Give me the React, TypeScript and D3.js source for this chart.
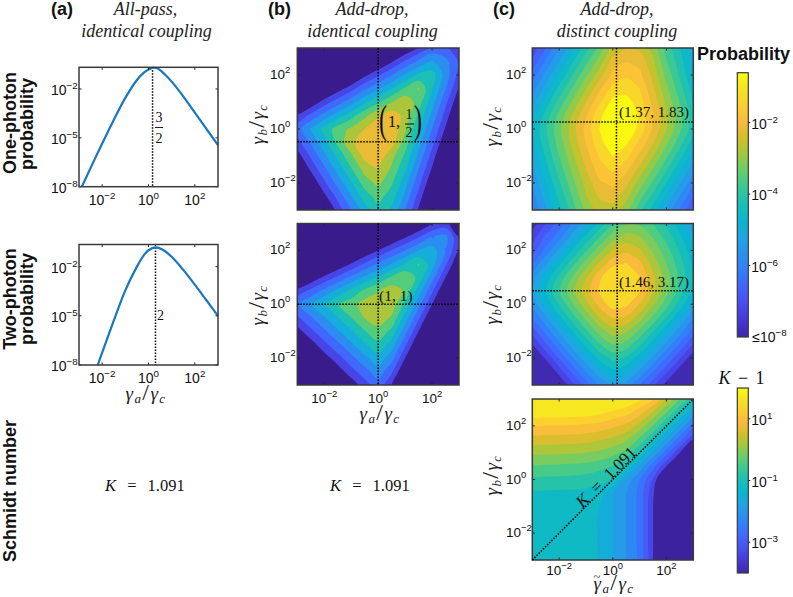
import React from 'react';
import * as d3 from 'd3';

// parula colours, bottom to top of the colorbars
const parula = ['#3E26A8', '#4537D5', '#484DF0', '#4563FD', '#327CFC', '#2B91EF', '#20A5E3', '#08B5D0', '#19BFB6',
  '#37C897', '#64CD6F', '#9DC943', '#D1BF27', '#F8BA3D', '#FCCE2F', '#F5E323', '#F9FB0E'];

// line plots, everything is log10
const onePhotonX = [-2.88, -2, -1.5, -1, -0.5, -0.2, 0, 0.18, 0.4, 0.7, 1, 1.5, 2, 2.5, 3];
const onePhotonY = [-8, -5.35, -3.9, -2.55, -1.45, -1.0, -0.8, -0.7, -0.75, -1.1, -1.55, -2.45, -3.45, -4.45, -5.45];
const twoPhotonX = [-2.19, -2, -1.5, -1, -0.5, -0.2, 0, 0.3, 0.6, 1, 1.5, 2, 2.5, 3];
const twoPhotonY = [-8, -7.25, -5.3, -3.45, -2.0, -1.3, -1.0, -0.82, -0.95, -1.4, -2.2, -3.1, -4.05, -5];

const lineYTicks = [-2, -5, -8];
const gridTicks = [-2, 0, 2];

// log10 probability on a grid, x = -3..3, y = 3..-3, half decade steps
const gridB1 = [
  [-15, -14.2, -13.3, -12.5, -11.7, -10.8, -10, -9.2, -8.3, -7.5, -6.7, -6.8, -7.2],
  [-13.5, -12.7, -11.8, -11, -10.2, -9.3, -8.5, -7.7, -6.8, -6, -5.3, -5.9, -7.0],
  [-12, -11.2, -10.3, -9.5, -8.7, -7.8, -7, -6.2, -5.3, -4.5, -4.3, -5.7, -7.2],
  [-10.5, -9.7, -8.8, -8, -7.2, -6.3, -5.5, -4.7, -3.8, -3.1, -4.6, -6.1, -7.7],
  [-9, -8.2, -7.3, -6.5, -5.7, -4.8, -4, -3.2, -2.6, -3.5, -5.1, -6.7, -8.2],
  [-7.5, -6.7, -5.85, -5, -4.2, -3.35, -2.5, -2.0, -2.6, -4.05, -5.6, -7.2, -8.75],
  [-6.5, -5.35, -4.4, -3.55, -3, -2.4, -1.9, -1.8, -3.0, -4.55, -6.15, -7.7, -9.3],
  [-7.2, -6.05, -4.9, -3.7, -2.6, -1.9, -1.8, -2.1, -3.5, -5.1, -6.65, -8.25, -9.8],
  [-7.95, -6.8, -5.6, -4.45, -3.3, -2.15, -1.9, -2.9, -4.05, -5.6, -7.2, -8.8, -10.3],
  [-8.7, -7.5, -6.35, -5.15, -4, -2.85, -2.4, -3.3, -4.55, -6.15, -7.7, -9.3, -10.9],
  [-9.4, -8.25, -7.05, -5.9, -4.75, -3.55, -2.95, -3.8, -5.1, -6.65, -8.25, -9.8, -11.4],
  [-10.1, -8.95, -7.8, -6.65, -5.45, -4.3, -3.6, -4.3, -5.6, -7.2, -8.75, -10.3, -11.9],
  [-10.9, -9.7, -8.55, -7.35, -6.2, -5, -4.2, -4.8, -6.15, -7.7, -9.3, -10.9, -12.4],
];

const gridB2 = [
  [-15.1, -14.4, -13.6, -12.9, -12.1, -11.4, -10.7, -9.9, -9.2, -8.5, -7.7, -7.4, -8.2],
  [-13.6, -12.8, -12.1, -11.3, -10.6, -9.9, -9.1, -8.4, -7.7, -6.95, -6.2, -5.9, -7.6],
  [-12, -11.3, -10.5, -9.8, -9.1, -8.3, -7.6, -6.85, -6.15, -5.4, -5, -6.2, -7.6],
  [-10.5, -9.75, -9, -8.25, -7.55, -6.8, -6.05, -5.35, -4.6, -3.85, -5, -6.75, -8.45],
  [-8.95, -8.2, -7.45, -6.75, -6, -5.25, -4.55, -3.8, -3.3, -4.1, -5.85, -7.6, -9.35],
  [-7.4, -6.7, -5.95, -5.2, -4.45, -3.75, -3.2, -2.7, -3.25, -5, -6.75, -8.45, -10.2],
  [-6.25, -5.45, -4.65, -3.85, -3.5, -2.8, -2.7, -2.7, -4.1, -5.85, -7.6, -9.35, -11.1],
  [-7.05, -6.25, -5.5, -4.7, -3.9, -3.1, -2.7, -3.25, -5, -6.75, -8.45, -10.2, -12],
  [-7.9, -7.1, -6.3, -5.5, -4.75, -3.95, -3.4, -4.1, -5.85, -7.6, -9.35, -11.1, -12.8],
  [-8.7, -7.95, -7.15, -6.35, -5.55, -4.75, -4.1, -5, -6.75, -8.45, -10.2, -12, -13.7],
  [-9.55, -8.75, -7.95, -7.2, -6.4, -5.6, -4.9, -5.85, -7.6, -9.35, -11.1, -12.8, -14.6],
  [-10.4, -9.6, -8.8, -8, -7.2, -6.45, -5.7, -6.75, -8.45, -10.2, -12, -13.7, -15.4],
  [-11.2, -10.4, -9.65, -8.85, -8.05, -7.25, -6.45, -7.6, -9.35, -11.1, -12.8, -14.6, -16.3],
];

const gridC1 = [
  [-7.22, -6.46, -5.7, -4.93, -4.19, -3.47, -2.6, -2.37, -2.45, -2.95, -3.81, -4.4, -5.0],
  [-6.76, -5.99, -5.24, -4.47, -3.72, -3.01, -2.2, -1.98, -2.1, -2.7, -3.57, -4.25, -4.95],
  [-6.3, -5.53, -4.77, -4.01, -3.26, -2.55, -1.85, -1.62, -1.85, -2.5, -3.32, -4.07, -4.83],
  [-5.84, -5.08, -4.31, -3.56, -2.82, -2.05, -1.4, -1.31, -1.55, -2.3, -3.1, -3.84, -4.61],
  [-5.39, -4.64, -3.87, -3.12, -2.38, -1.62, -1.02, -0.98, -1.35, -2.1, -2.88, -3.62, -4.39],
  [-5.01, -4.26, -3.48, -2.74, -2.01, -1.25, -0.78, -0.77, -1.2, -1.95, -2.72, -3.46, -4.24],
  [-4.82, -4.07, -3.3, -2.55, -1.83, -1.14, -0.67, -0.78, -1.28, -2.03, -2.76, -3.51, -4.28],
  [-4.93, -4.17, -3.41, -2.66, -1.94, -1.27, -0.86, -1.06, -1.65, -2.35, -3.1, -3.84, -4.61],
  [-5.13, -4.37, -3.6, -2.86, -2.14, -1.5, -1.14, -1.42, -2.06, -2.77, -3.52, -4.27, -5.04],
  [-5.35, -4.59, -3.83, -3.09, -2.38, -1.74, -1.48, -1.85, -2.5, -3.22, -3.97, -4.73, -5.49],
  [-5.59, -4.83, -4.07, -3.33, -2.63, -2.03, -1.87, -2.25, -2.96, -3.68, -4.43, -5.2, -5.95],
  [-5.83, -5.06, -4.31, -3.58, -2.8, -2.32, -2.2, -2.65, -3.42, -4.15, -4.89, -5.66, -6.42],
  [-6.08, -5.31, -4.56, -3.83, -3.1, -2.6, -2.55, -3.0, -3.9, -4.62, -5.37, -6.14, -6.89],
];

const gridC2 = [
  [-7.7, -7.1, -6.5, -5.8, -5.24, -4.51, -3.84, -3.42, -3.46, -3.83, -4.32, -4.85, -5.37],
  [-7.3, -6.6, -6.03, -5.27, -4.52, -3.81, -3.16, -2.82, -2.96, -3.42, -3.96, -4.54, -5.13],
  [-6.89, -6.12, -5.36, -4.6, -3.85, -3.14, -2.52, -2.27, -2.51, -3.04, -3.64, -4.26, -4.9],
  [-6.21, -5.45, -4.68, -3.93, -3.19, -2.49, -1.85, -1.72, -2.05, -2.73, -3.37, -4.03, -4.72],
  [-5.62, -4.87, -4.1, -3.35, -2.62, -1.85, -1.3, -1.3, -1.72, -2.47, -3.17, -3.88, -4.62],
  [-5.36, -4.6, -3.83, -3.08, -2.36, -1.67, -1.18, -1.26, -1.7, -2.5, -3.23, -3.98, -4.75],
  [-5.69, -4.94, -4.17, -3.42, -2.7, -2.01, -1.54, -1.65, -2.19, -2.9, -3.63, -4.38, -5.15],
  [-6.27, -5.52, -4.75, -4, -3.27, -2.59, -2.13, -2.24, -2.79, -3.5, -4.24, -4.99, -5.76],
  [-6.89, -6.13, -5.36, -4.62, -3.89, -3.21, -2.77, -2.91, -3.47, -4.18, -4.92, -5.67, -6.44],
  [-7.52, -6.76, -5.99, -5.25, -4.53, -3.85, -3.41, -3.57, -4.14, -4.85, -5.59, -6.34, -7.11],
  [-8.17, -7.42, -6.65, -5.9, -5.18, -4.51, -4.08, -4.27, -4.85, -5.55, -6.29, -7.05, -7.81],
  [-8.82, -8.07, -7.3, -6.56, -5.83, -5.16, -4.75, -4.95, -5.53, -6.24, -6.99, -7.73, -8.5],
  [-9.46, -8.7, -7.94, -7.2, -6.47, -5.8, -5.4, -5.63, -6.23, -6.95, -7.68, -8.43, -9.19],
];

// log10(K - 1)
const gridC3 = [
  [2.1, 2.1, 2.1, 2.08, 2.05, 2.0, 1.85, 1.65, 1.4, 0.95, 0.24, -0.48, -1.2],
  [1.55, 1.55, 1.55, 1.53, 1.5, 1.4, 1.25, 1.1, 0.75, 0.2, -0.48, -1.2, -2.0],
  [0.95, 0.95, 0.95, 0.93, 0.88, 0.82, 0.68, 0.5, 0.1, -0.5, -1.2, -2.0, -2.85],
  [0.44, 0.44, 0.44, 0.42, 0.38, 0.3, 0.15, -0.05, -0.55, -1.2, -2.0, -2.85, -3.72],
  [-0.05, -0.05, -0.06, -0.08, -0.12, -0.2, -0.35, -0.6, -1.2, -2.0, -2.85, -3.72, -4.7],
  [-0.53, -0.53, -0.54, -0.56, -0.6, -0.7, -0.85, -1.2, -2.0, -2.85, -3.72, -4.7, -5.6],
  [-0.93, -0.93, -0.94, -0.96, -1.0, -1.1, -1.2, -2.0, -2.65, -3.4, -4.7, -5.6, -6.3],
  [-1.27, -1.27, -1.27, -1.28, -1.3, -1.35, -1.9, -2.28, -2.75, -3.65, -4.8, -5.6, -6.5],
  [-1.36, -1.36, -1.36, -1.36, -1.37, -1.55, -1.92, -2.28, -2.75, -3.72, -4.8, -5.8, -6.8],
  [-1.38, -1.38, -1.38, -1.38, -1.38, -1.6, -1.92, -2.28, -2.75, -3.72, -4.8, -5.8, -6.8],
  [-1.38, -1.38, -1.38, -1.38, -1.38, -1.6, -1.92, -2.28, -2.75, -3.72, -4.8, -5.8, -6.8],
  [-1.38, -1.38, -1.38, -1.38, -1.38, -1.6, -1.92, -2.28, -2.75, -3.72, -4.8, -5.8, -6.8],
  [-1.38, -1.38, -1.38, -1.38, -1.38, -1.6, -1.92, -2.28, -2.75, -3.72, -4.8, -5.8, -6.8],
];

const levelsB = [-7.6, -6.9, -6.15, -5.4, -4.65, -3.9, -3.15, -2.4];
const levelsC1 = [-7.7, -7.29, -6.88, -6.47, -6.06, -5.65, -5.24, -4.83, -4.42, -4.01, -3.6, -3.19, -2.78, -2.37, -1.96, -1.55, -1.14];
const levelsC2 = [-7.49, -7.08, -6.67, -6.26, -5.85, -5.44, -5.03, -4.62, -4.21, -3.8, -3.39, -2.98, -2.57, -2.16, -1.75];
const levelsC3 = [-3.72, -3.36, -3, -2.64, -2.28, -1.92, -1.56, -1.2, -0.84, -0.48, -0.12, 0.24, 0.6, 0.96, 1.32];

const probTicks = [-2, -4, -6];
const kTicks = [1, -1, -3];

const sans = 'Liberation Sans';
const serif = 'Liberation Serif';

const colorAt = d3.scaleLinear<string>().domain(parula.map((_, i) => i / (parula.length - 1))).range(parula).interpolate(d3.interpolateRgb);
const probT = d3.scaleLinear().domain([-8, -0.6]).range([0, 1]);
const kT = d3.scaleLinear().domain([-4, 2]).range([0, 1]);

function Pow({ x, y, exp, anchor = 'start', size = 14, prefix = '' }: any) {
  return (
    <text x={x} y={y} textAnchor={anchor} fontFamily={sans} fontSize={size} fill="#111">
      {prefix}10<tspan dy={-6} fontSize={size * 0.7}>{String(exp).replace('-', '−')}</tspan>
    </text>
  );
}

function Gamma({ x, y, sub, rotate, tilde }: any) {
  const t = rotate ? `rotate(-90 ${x} ${y})` : undefined;
  return (
    <g>
      <text x={x} y={y} transform={t} textAnchor="middle" fontFamily={serif} fontStyle="italic" fontSize={19} letterSpacing={1.4} fill="#222">
        γ<tspan dy={3} fontSize={13}>{sub}</tspan>
        <tspan dy={-3} fontSize={24} fontStyle="normal">/</tspan>γ<tspan dy={3} fontSize={13}>c</tspan>
      </text>
      {tilde && <text x={x - 17} y={y - 9} textAnchor="middle" fontFamily={serif} fontSize={12} fill="#222">~</text>}
    </g>
  );
}

function Frame({ x0, x1, y0, y1, xt, yt }: any) {
  const marks: any[] = [];
  xt.forEach((v: number) => marks.push(
    <path key={'x' + v} d={`M${v},${y1}v-2.5M${v},${y0}v2.5`} stroke="#222" />));
  yt.forEach((v: number) => marks.push(
    <path key={'y' + v} d={`M${x0},${v}h2.5M${x1},${v}h-2.5`} stroke="#222" />));
  return (
    <g>
      {marks}
      <rect x={x0} y={y0} width={x1 - x0} height={y1 - y0} fill="none" stroke="#3a3a3a" strokeWidth={1.5} />
    </g>
  );
}

function Dotted({ x1, y1, x2, y2 }: any) {
  return <line x1={x1} y1={y1} x2={x2} y2={y2} stroke="#000" strokeWidth={1.5} strokeDasharray="1.5 1.5" />;
}

function LinePanel({ xs, ys, top, bottom, yMax, peak, labelX }: any) {
  const x0 = 79;
  const x1 = 218;
  const xScale = d3.scaleLinear().domain([-3, 3]).range([x0, x1]);
  const yScale = d3.scaleLinear().domain([-8, yMax]).range([bottom, top]);
  const line = d3.line<number>().x((d) => xScale(d)).y((_, i) => yScale(ys[i])).curve(d3.curveCatmullRom);
  return (
    <g>
      <Dotted x1={xScale(peak)} y1={top} x2={xScale(peak)} y2={bottom} />
      <path d={line(xs) as string} fill="none" stroke="#1777BF" strokeWidth={2.2} />
      <Frame x0={x0} x1={x1} y0={top} y1={bottom} xt={gridTicks.map(xScale)} yt={lineYTicks.map(yScale)} />
      {gridTicks.map((t) => <Pow key={t} x={xScale(t)} y={bottom + 18} exp={t} anchor="middle" />)}
      {lineYTicks.map((t) => <Pow key={t} x={labelX} y={yScale(t) + 6} exp={t} />)}
    </g>
  );
}

function ContourPanel({ id, grid, levels, toT, top, bottom, x0, x1, labelX, xLabelGap = 18, showX = false, topValue, bias = 0 }: any) {
  const xScale = d3.scaleLinear().domain([-3, 3]).range([x0, x1]);
  const yScale = d3.scaleLinear().domain([3, -3]).range([top, bottom]);
  // node i of the grid sits at i + 0.5 in d3.contours
  const gx = d3.scaleLinear().domain([0.5, 12.5]).range([x0, x1]);
  const gy = d3.scaleLinear().domain([0.5, 12.5]).range([top, bottom]);
  const bands = d3.contours().size([13, 13]).thresholds(levels)(grid.flat());
  const ring = d3.line().x((d) => gx(d[0])).y((d) => gy(d[1])).curve(d3.curveCatmullRomClosed.alpha(0.5));
  const step = levels[1] - levels[0];
  return (
    <g>
      <clipPath id={id}><rect x={x0} y={top} width={x1 - x0} height={bottom - top} /></clipPath>
      <g clipPath={`url(#${id})`}>
        <rect x={x0} y={top} width={x1 - x0} height={bottom - top} fill={colorAt(toT(levels[0] - step))} />
        {bands.map((b, i) => {
          const hi = i + 1 < levels.length ? levels[i + 1] : levels[i] + step;
          const mid = i === levels.length - 1 && topValue !== undefined ? topValue : (levels[i] + hi) / 2 + bias * step;
          const d = b.coordinates.map((poly) => poly.map((r) => ring(r.slice(0, -1) as any)).join('')).join('');
          return <path key={i} d={d} fill={colorAt(toT(mid))} />;
        })}
      </g>
      <Frame x0={x0} x1={x1} y0={top} y1={bottom} xt={gridTicks.map(xScale)} yt={gridTicks.map(yScale)} />
      {showX && gridTicks.map((t) => <Pow key={t} x={xScale(t)} y={bottom + xLabelGap} exp={t} anchor="middle" size={13.5} />)}
      {gridTicks.map((t) => <Pow key={t} x={labelX} y={yScale(t) + 4} exp={t} size={13.5} />)}
    </g>
  );
}

function ColorBar({ id, x, top, bottom, stops, ticks, domain, last }: any) {
  const yScale = d3.scaleLinear().domain(domain).range([bottom, top]);
  return (
    <g>
      <linearGradient id={id} x1="0" y1="1" x2="0" y2="0">
        {stops.map((c: string, i: number) => <stop key={i} offset={i / (stops.length - 1)} stopColor={c} />)}
      </linearGradient>
      <rect x={x} y={top} width={11} height={bottom - top} fill={`url(#${id})`} stroke="#3a3a3a" strokeWidth={1.2} />
      {ticks.map((t: number) => (
        <g key={t}>
          <path d={`M${x + 11},${yScale(t)}h2`} stroke="#222" />
          <Pow x={x + 14} y={yScale(t) + 6} exp={t} size={14} />
        </g>
      ))}
      {last && <Pow x={x + 15} y={bottom + 4.5} exp={-8} size={14} prefix="≤" />}
    </g>
  );
}

function Bold({ x, y, size = 18, rotate, children, anchor = 'middle' }: any) {
  return (
    <text x={x} y={y} transform={rotate ? `rotate(-90 ${x} ${y})` : undefined} textAnchor={anchor}
      fontFamily={sans} fontWeight={700} fontSize={size} fill="#111">{children}</text>
  );
}

function Head({ x, y, children }: any) {
  return <text x={x} y={y} textAnchor="middle" fontFamily={serif} fontStyle="italic" fontSize={18} fill="#222">{children}</text>;
}

function Note({ x, y, size = 15, children, anchor = 'start', transform, wordSpacing }: any) {
  return <text x={x} y={y} textAnchor={anchor} transform={transform} wordSpacing={wordSpacing} fontFamily={serif} fontSize={size} fill="#111">{children}</text>;
}

export default function App() {
  const bX = d3.scaleLinear().domain([-3, 3]).range([297.3, 459]);
  const cX = d3.scaleLinear().domain([-3, 3]).range([532.3, 693.3]);
  const row1Y = d3.scaleLinear().domain([3, -3]).range([48, 210]);
  const row2Y = d3.scaleLinear().domain([3, -3]).range([223.5, 385]);
  const row3Y = d3.scaleLinear().domain([3, -3]).range([399, 560]);
  const log = Math.log10;

  return (
    <svg width={793} height={597} style={{ position: 'absolute', left: 0, top: 0 }}>
      <Bold x={51} y={15} anchor="start">(a)</Bold>
      <Bold x={268} y={15} anchor="start">(b)</Bold>
      <Bold x={493} y={15} anchor="start">(c)</Bold>
      <Head x={145.5} y={15}>All-pass,</Head>
      <Head x={146.5} y={37}>identical coupling</Head>
      <Head x={372} y={15}>Add-drop,</Head>
      <Head x={372.5} y={37}>identical coupling</Head>
      <Head x={617} y={15}>Add-drop,</Head>
      <Head x={617} y={37}>distinct coupling</Head>

      <Bold x={15.5} y={123} rotate>One-photon</Bold>
      <Bold x={33} y={124} rotate>probability</Bold>
      <Bold x={15.5} y={299} rotate>Two-photon</Bold>
      <Bold x={33} y={299} rotate>probability</Bold>
      <Bold x={15.5} y={491} rotate>Schmidt number</Bold>

      <LinePanel xs={onePhotonX} ys={onePhotonY} top={67.3} bottom={186.7} yMax={-0.67} peak={log(1.5)} labelX={51} />
      <LinePanel xs={twoPhotonX} ys={twoPhotonY} top={244.5} bottom={365} yMax={-0.65} peak={log(2)} labelX={51} />
      <Note x={159} y={121.5} size={14} anchor="middle">3</Note>
      <line x1={155} x2={163} y1={127.5} y2={127.5} stroke="#222" />
      <Note x={159} y={143} size={14} anchor="middle">2</Note>
      <Note x={160.5} y={320} size={14} anchor="middle">2</Note>
      <Gamma x={146} y={400} sub="a" />

      <ContourPanel id="b1" grid={gridB1} levels={levelsB} toT={probT} top={48} bottom={210} x0={297.3} x1={459} labelX={270} topValue={-2.15} />
      <Dotted x1={bX(0)} y1={48} x2={bX(0)} y2={210} />
      <Dotted x1={297.3} y1={row1Y(log(0.34))} x2={459} y2={row1Y(log(0.34))} />
      <text transform="translate(379 133) scale(0.6 1)" fontFamily={serif} fontSize={40} fill="#111">(</text>
      <text transform="translate(422 133) scale(0.6 1)" textAnchor="end" fontFamily={serif} fontSize={40} fill="#111">)</text>
      <Note x={388} y={127} size={16}>1,</Note>
      <Note x={409} y={118.5} size={14} anchor="middle">1</Note>
      <line x1={405} x2={414} y1={124} y2={124} stroke="#111" />
      <Note x={409} y={137} size={14} anchor="middle">2</Note>

      <ContourPanel id="b2" grid={gridB2} levels={levelsB} toT={probT} top={223.5} bottom={385} x0={297.3} x1={459} labelX={270} showX />
      <Dotted x1={bX(0)} y1={223.5} x2={bX(0)} y2={385} />
      <Dotted x1={297.3} y1={row2Y(0)} x2={459} y2={row2Y(0)} />
      <Note x={379} y={300.5} size={15.5}>(1, 1)</Note>
      <Gamma x={380} y={420} sub="a" />

      <ContourPanel id="c1" grid={gridC1} levels={levelsC1} toT={probT} top={48} bottom={210} x0={532.3} x1={693.3} labelX={506} topValue={-0.65} />
      <Dotted x1={cX(log(1.37))} y1={48} x2={cX(log(1.37))} y2={210} />
      <Dotted x1={532.3} y1={row1Y(log(1.83))} x2={693.3} y2={row1Y(log(1.83))} />
      <Note x={619} y={116.5}>(1.37, 1.83)</Note>

      <ContourPanel id="c2" grid={gridC2} levels={levelsC2} toT={probT} top={223.5} bottom={385} x0={532.3} x1={693.3} labelX={506} topValue={-1.3} />
      <Dotted x1={cX(log(1.46))} y1={223.5} x2={cX(log(1.46))} y2={385} />
      <Dotted x1={532.3} y1={row2Y(log(3.17))} x2={693.3} y2={row2Y(log(3.17))} />
      <Note x={619} y={287}>(1.46, 3.17)</Note>

      <ContourPanel id="c3" grid={gridC3} levels={levelsC3} toT={kT} top={399} bottom={560} x0={532.3} x1={693.3} labelX={506} showX xLabelGap={15} bias={0.5} />
      <Dotted x1={cX(-3)} y1={row3Y(-3)} x2={cX(3)} y2={row3Y(3)} />
      <Note x={610} y={481} size={17} anchor="middle" wordSpacing={5} transform="rotate(-45 610 481)"><tspan fontStyle="italic">K</tspan> = 1.091</Note>
      <Gamma x={614} y={590} sub="a" tilde />

      <Gamma x={264} y={124} sub="b" rotate />
      <Gamma x={264} y={305} sub="b" rotate />
      <Gamma x={498} y={126} sub="b" rotate />
      <Gamma x={498} y={304} sub="b" rotate />
      <Gamma x={498} y={475} sub="b" rotate />

      <Note x={105} y={490.5} size={16.5} wordSpacing={7}><tspan fontStyle="italic">K</tspan> = 1.091</Note>
      <Note x={330} y={490.5} size={16.5} wordSpacing={7}><tspan fontStyle="italic">K</tspan> = 1.091</Note>

      <Bold x={697} y={60} anchor="start">Probability</Bold>
      <ColorBar id="cbP" x={737.3} top={72.7} bottom={337} stops={parula} ticks={probTicks} domain={[-8, -0.6]} last />
      <Note x={741.5} y={384} size={18} anchor="middle" wordSpacing={3}><tspan fontStyle="italic">K</tspan> − 1</Note>
      <ColorBar id="cbK" x={737.3} top={388} bottom={573} stops={parula} ticks={kTicks} domain={[-4, 2]} />
    </svg>
  );
}
